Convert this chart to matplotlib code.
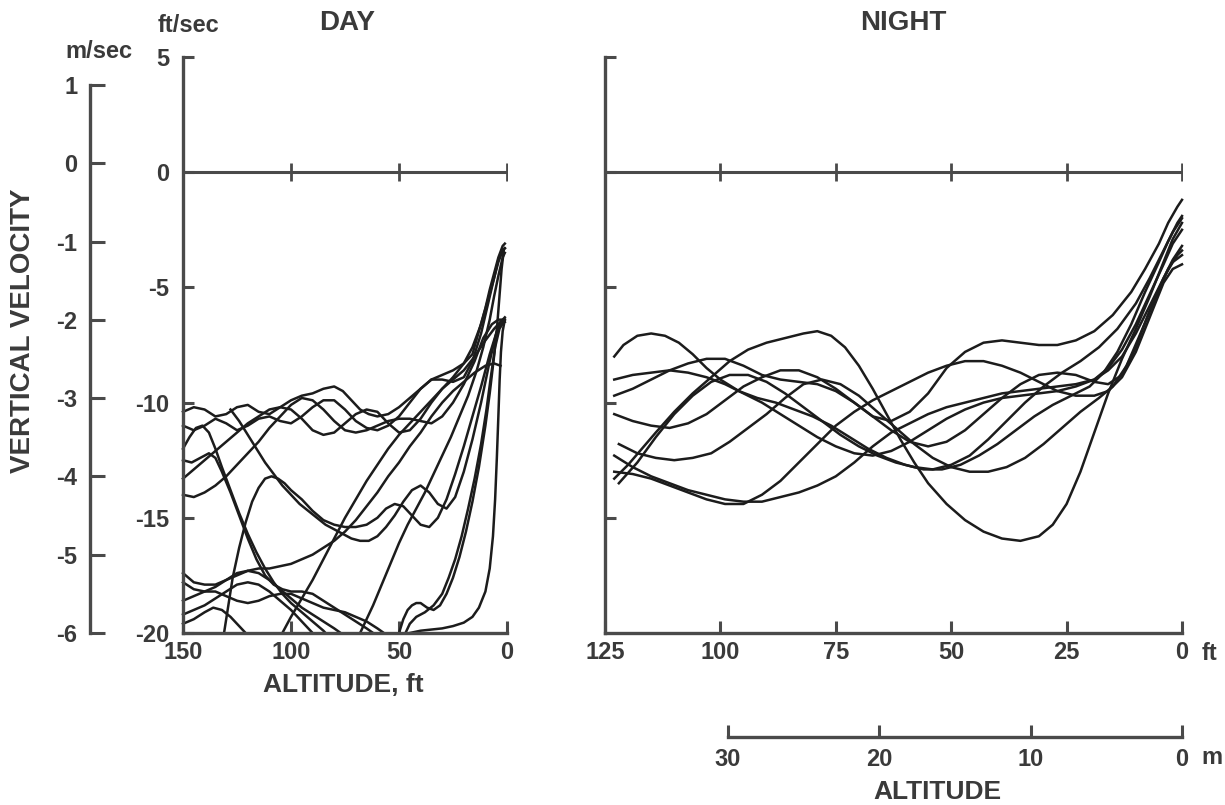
import matplotlib.pyplot as plt

W, H = 1225, 805

# Axis scales
ft_ticks = [5, 0, -5, -10, -15, -20]
ms_ticks = [1, 0, -1, -2, -3, -4, -5, -6]
day_alt_ticks = [150, 100, 50, 0]
night_alt_ticks = [125, 100, 75, 50, 25, 0]
metre_ticks = [30, 20, 10, 0]
FT_PER_M = 3.2808

# DAY traces: (altitude ft, vertical velocity ft/sec)
day_1 = [(150, -10.4), (145, -10.2), (140, -10.3), (135, -10.6), (130, -10.5), (125, -10.2),
         (120, -10.1), (115, -10.4), (110, -10.5), (105, -10.2), (100, -9.9), (95, -9.7),
         (90, -9.6), (85, -9.4), (80, -9.3), (76, -9.5), (72, -9.9), (68, -10.3), (64, -10.5),
         (60, -10.6), (55, -10.5), (50, -10.2), (45, -9.8), (40, -9.4), (35, -9.0), (30, -8.8),
         (25, -8.6), (20, -8.3), (16, -7.9), (13, -6.9), (10, -5.9), (8, -5.1), (6, -4.4),
         (4, -3.7), (2, -3.2), (1, -3.1)]
day_2 = [(150, -11.0), (145, -11.2), (140, -11.0), (135, -10.7), (130, -10.9), (125, -11.2),
         (120, -11.0), (115, -10.7), (110, -10.6), (105, -10.8), (100, -10.9), (95, -10.6),
         (90, -10.2), (85, -9.9), (80, -9.9), (75, -10.3), (70, -10.8), (65, -11.1), (60, -11.2),
         (55, -11.0), (50, -10.6), (45, -10.0), (40, -9.4), (35, -9.0), (30, -9.0), (25, -9.1),
         (20, -8.9), (16, -8.2), (12, -7.0), (9, -5.8), (6, -4.6), (4, -3.8), (2, -3.4), (1, -3.3)]
day_3 = [(150, -13.3), (145, -12.9), (140, -12.5), (135, -12.1), (130, -11.7), (125, -11.3),
         (120, -10.9), (115, -10.6), (110, -10.3), (105, -10.2), (100, -10.3), (95, -10.7),
         (90, -11.2), (85, -11.4), (80, -11.3), (75, -10.9), (70, -10.5), (65, -10.3), (60, -10.4),
         (55, -10.9), (50, -11.3), (45, -11.2), (40, -10.7), (35, -10.0), (30, -9.4), (25, -9.0),
         (20, -8.6), (15, -8.0), (10, -7.3), (6, -6.8), (3, -6.5), (1, -6.4)]
day_4 = [(150, -12.0), (147, -11.5), (144, -11.1), (141, -11.0), (138, -11.3), (135, -12.0),
         (132, -12.8), (128, -13.8), (124, -14.8), (120, -15.7), (116, -16.5), (112, -17.2),
         (108, -17.8), (104, -18.3), (100, -18.7), (95, -19.1), (90, -19.5), (85, -19.9), (84, -20.0)]
day_5 = [(150, -12.5), (146, -12.6), (142, -12.4), (138, -12.2), (135, -12.4), (132, -13.0),
         (128, -13.9), (124, -14.9), (120, -15.9), (116, -16.8), (112, -17.5), (108, -17.9),
         (104, -18.1), (100, -18.2), (95, -18.2), (90, -18.3), (85, -18.6), (80, -18.9),
         (75, -19.2), (70, -19.5), (65, -19.8), (62, -20.0)]
day_6 = [(150, -14.0), (145, -14.1), (140, -13.9), (135, -13.6), (130, -13.2), (125, -12.7),
         (120, -12.2), (115, -11.7), (110, -11.1), (105, -10.6), (100, -10.1), (95, -9.8),
         (90, -9.9), (85, -10.3), (80, -10.8), (75, -11.2), (70, -11.3), (65, -11.2), (60, -11.0),
         (55, -10.8), (50, -10.7), (45, -10.7), (40, -10.8), (35, -10.9), (30, -10.6), (25, -10.0),
         (20, -9.2), (15, -8.2), (11, -7.2), (7, -6.6), (4, -6.4), (2, -6.4)]
day_7 = [(131, -20.0), (129, -18.8), (127, -17.6), (124, -16.3), (121, -15.2), (118, -14.3),
         (115, -13.7), (112, -13.3), (109, -13.2), (106, -13.3), (103, -13.5), (100, -13.8),
         (95, -14.2), (90, -14.7), (85, -15.1), (80, -15.3), (75, -15.4), (70, -15.4), (65, -15.3),
         (60, -15.0), (56, -14.6), (52, -14.4), (48, -14.5), (44, -14.9), (40, -15.3), (36, -15.4),
         (32, -15.0), (28, -14.2), (24, -13.1), (20, -11.9), (16, -10.6), (12, -9.3), (8, -7.9),
         (5, -7.0), (3, -6.6), (1, -6.5)]
day_8 = [(150, -17.4), (145, -17.8), (140, -17.9), (135, -17.9), (130, -17.7), (125, -17.5),
         (120, -17.3), (115, -17.2), (110, -17.2), (105, -17.1), (100, -17.0), (95, -16.8),
         (90, -16.6), (85, -16.3), (80, -16.0), (75, -15.6), (70, -15.1), (65, -14.5), (60, -13.9),
         (55, -13.2), (50, -12.6), (45, -11.9), (40, -11.3), (35, -10.6), (30, -10.0), (25, -9.5),
         (20, -9.1), (15, -8.7), (10, -8.4), (6, -8.3), (3, -8.4)]
day_9 = [(104, -20.0), (100, -19.3), (95, -18.5), (90, -17.7), (85, -16.8), (80, -15.9),
         (75, -15.0), (70, -14.2), (65, -13.4), (60, -12.7), (55, -12.0), (50, -11.4), (45, -10.9),
         (40, -10.4), (35, -9.9), (30, -9.4), (25, -8.9), (20, -8.3), (16, -7.6), (12, -6.6),
         (9, -5.6), (6, -4.6), (4, -3.9), (2, -3.4), (1, -3.3)]
day_10 = [(68, -20.0), (65, -19.4), (62, -18.8), (58, -17.9), (54, -17.0), (50, -16.1),
          (46, -15.3), (42, -14.6), (38, -13.9), (34, -13.1), (30, -12.3), (26, -11.5),
          (22, -10.6), (18, -9.7), (14, -8.6), (11, -7.6), (8, -6.4), (6, -5.4), (4, -4.5),
          (2, -3.7), (1, -3.5)]
day_11 = [(150, -17.8), (145, -18.1), (140, -18.2), (135, -18.0), (130, -17.7), (125, -17.4),
          (120, -17.3), (115, -17.4), (110, -17.7), (105, -18.1), (100, -18.5), (95, -18.9),
          (90, -19.2), (85, -19.5), (80, -19.8), (77, -20.0)]
day_12 = [(150, -18.6), (145, -18.4), (140, -18.2), (135, -18.2), (130, -18.4), (125, -18.6),
          (120, -18.7), (115, -18.6), (110, -18.4), (105, -18.3), (100, -18.3), (95, -18.5),
          (90, -18.7), (85, -18.9), (80, -19.0), (75, -19.1), (70, -19.3), (65, -19.5),
          (60, -19.8), (57, -20.0)]
day_13 = [(150, -19.2), (145, -19.0), (140, -18.8), (135, -18.5), (130, -18.2), (125, -17.9),
          (120, -17.8), (115, -17.9), (110, -18.2), (105, -18.6), (100, -19.0), (96, -19.4),
          (92, -19.8), (90, -20.0)]
day_14 = [(150, -19.6), (145, -19.4), (140, -19.1), (136, -18.9), (132, -19.0), (128, -19.3),
          (124, -19.7), (121, -20.0)]
day_15 = [(45, -20.0), (40, -19.9), (35, -19.85), (30, -19.8), (25, -19.7), (20, -19.55),
          (16, -19.3), (13, -18.9), (10, -18.2), (8, -17.2), (6.5, -15.8), (5.5, -14.2),
          (4.7, -12.4), (4, -10.6), (3.4, -9.0), (2.8, -7.8), (2, -6.9), (1, -6.4)]
day_16 = [(50, -20.0), (48, -19.4), (46, -19.0), (44, -18.8), (42, -18.7), (40, -18.7),
          (37, -18.9), (34, -19.0), (31, -18.8), (28, -18.3), (25, -17.6), (22, -16.7),
          (19, -15.6), (16, -14.3), (13, -12.8), (10, -11.0), (8, -9.6), (6, -8.0), (4.5, -6.6),
          (3.5, -5.4), (2.5, -4.2), (1.5, -3.4)]
day_17 = [(47, -20.0), (45, -19.6), (42, -19.3), (38, -19.1), (34, -18.8), (30, -18.3),
          (27, -17.6), (24, -16.8), (21, -15.8), (18, -14.6), (15, -13.3), (12, -11.8),
          (9.5, -10.3), (7.5, -8.9), (5.5, -7.6), (3.5, -6.8), (1.5, -6.5)]
day_18 = [(128, -10.3), (124, -10.8), (120, -11.4), (116, -12.0), (112, -12.6), (108, -13.1),
          (104, -13.6), (100, -14.0), (96, -14.4), (92, -14.7), (88, -15.0), (84, -15.3),
          (80, -15.5), (76, -15.7), (72, -15.9), (68, -16.0), (64, -16.0), (60, -15.8),
          (56, -15.4), (52, -14.9), (48, -14.3), (44, -13.8), (40, -13.6), (36, -13.9),
          (32, -14.4), (28, -14.6), (24, -14.1), (20, -13.0), (16, -11.6), (12, -10.0),
          (8, -8.2), (5, -7.0), (3, -6.5), (1, -6.3)]

# NIGHT traces: (altitude ft, vertical velocity ft/sec)
night_1 = [(123, -8.0), (121, -7.5), (118, -7.1), (115, -7.0), (112, -7.1), (109, -7.4),
           (106, -7.9), (103, -8.5), (100, -9.0), (96, -9.5), (92, -9.8), (88, -10.0),
           (84, -10.3), (80, -10.6), (76, -11.0), (72, -11.5), (68, -12.0), (64, -12.4),
           (60, -12.7), (56, -12.9), (52, -12.9), (48, -12.7), (44, -12.3), (40, -11.8),
           (36, -11.2), (32, -10.6), (28, -10.1), (24, -9.7), (20, -9.3), (17, -8.7), (14, -7.8),
           (11, -6.6), (8, -5.2), (5, -3.9), (3, -3.0), (1, -2.2), (0, -1.9)]
night_2 = [(123, -9.0), (119, -8.8), (115, -8.7), (111, -8.6), (107, -8.7), (103, -8.9),
           (99, -9.2), (95, -9.6), (91, -10.0), (87, -10.5), (83, -11.0), (79, -11.5),
           (75, -11.9), (71, -12.2), (67, -12.3), (63, -12.1), (59, -11.7), (55, -11.2),
           (51, -10.7), (47, -10.3), (43, -10.0), (39, -9.8), (35, -9.7), (31, -9.6), (27, -9.5),
           (23, -9.3), (19, -9.0), (16, -8.5), (13, -7.7), (10, -6.6), (7, -5.3), (4, -4.0),
           (2, -3.1), (0, -2.5)]
night_3 = [(123, -9.7), (119, -9.4), (115, -9.0), (111, -8.6), (107, -8.3), (103, -8.1),
           (99, -8.1), (95, -8.4), (91, -8.8), (87, -9.0), (83, -9.1), (79, -9.2), (75, -9.5),
           (71, -10.0), (67, -10.6), (63, -11.2), (59, -11.7), (55, -11.9), (51, -11.7),
           (47, -11.2), (43, -10.5), (39, -9.8), (35, -9.2), (31, -8.8), (27, -8.7), (23, -8.8),
           (19, -9.1), (16, -9.2), (13, -8.8), (10, -7.6), (7, -6.0), (4, -4.6), (2, -3.8),
           (0, -3.2)]
night_4 = [(123, -10.5), (119, -10.8), (115, -11.0), (111, -11.1), (107, -10.9), (103, -10.5),
           (99, -9.9), (95, -9.3), (91, -8.9), (87, -8.6), (83, -8.6), (79, -8.9), (75, -9.4),
           (71, -10.0), (67, -10.6), (63, -10.8), (59, -10.4), (55, -9.6), (51, -8.5),
           (47, -7.8), (43, -7.4), (39, -7.3), (35, -7.4), (31, -7.5), (27, -7.5), (23, -7.3),
           (19, -6.9), (15, -6.2), (11, -5.2), (8, -4.2), (5, -3.1), (3, -2.2), (1, -1.5),
           (0, -1.2)]
night_5 = [(123, -13.3), (120, -12.7), (117, -12.0), (114, -11.3), (110, -10.4), (106, -9.6),
           (102, -8.9), (98, -8.2), (94, -7.7), (90, -7.4), (86, -7.2), (82, -7.0), (79, -6.9),
           (76, -7.1), (73, -7.6), (70, -8.4), (67, -9.4), (64, -10.5), (61, -11.6), (58, -12.6),
           (55, -13.5), (51, -14.4), (47, -15.1), (43, -15.6), (39, -15.9), (35, -16.0),
           (31, -15.8), (28, -15.3), (25, -14.4), (22, -13.0), (19, -11.3), (16, -9.6),
           (13, -8.1), (10, -6.8), (7, -5.4), (4, -3.9), (2, -2.9), (0, -2.2)]
night_6 = [(122, -11.8), (118, -12.2), (114, -12.4), (110, -12.5), (106, -12.4), (102, -12.2),
           (98, -11.7), (94, -11.1), (90, -10.5), (86, -9.8), (82, -9.2), (78, -9.0), (74, -9.2),
           (70, -9.7), (66, -10.4), (62, -11.1), (58, -11.8), (54, -12.4), (50, -12.8),
           (46, -13.0), (42, -13.0), (38, -12.8), (34, -12.4), (30, -11.8), (26, -11.1),
           (22, -10.4), (18, -9.8), (15, -9.3), (12, -8.4), (9, -7.0), (6, -5.6), (3, -4.2),
           (1, -3.6), (0, -3.4)]
night_7 = [(123, -12.3), (119, -12.8), (115, -13.2), (111, -13.5), (107, -13.8), (103, -14.0),
           (99, -14.2), (95, -14.3), (91, -14.3), (87, -14.1), (83, -13.9), (79, -13.6),
           (75, -13.2), (71, -12.6), (67, -11.9), (63, -11.3), (59, -10.9), (55, -10.5),
           (51, -10.2), (47, -10.0), (43, -9.8), (39, -9.6), (35, -9.5), (31, -9.4), (27, -9.3),
           (23, -9.2), (19, -9.0), (16, -8.6), (13, -8.0), (10, -7.0), (7, -5.8), (4, -4.6),
           (2, -3.9), (0, -3.6)]
night_8 = [(123, -13.0), (119, -13.1), (115, -13.3), (111, -13.6), (107, -13.9), (103, -14.2),
           (99, -14.4), (95, -14.4), (91, -14.0), (87, -13.4), (83, -12.6), (79, -11.8),
           (75, -11.0), (71, -10.4), (67, -9.9), (63, -9.5), (59, -9.1), (55, -8.7), (51, -8.4),
           (47, -8.2), (43, -8.2), (39, -8.4), (35, -8.7), (31, -9.1), (27, -9.5), (23, -9.7),
           (19, -9.7), (16, -9.5), (13, -8.9), (10, -7.8), (7, -6.3), (4, -4.8), (2, -4.2),
           (0, -4.0)]
night_9 = [(122, -13.5), (118, -12.6), (114, -11.5), (110, -10.5), (106, -9.7), (102, -9.1),
           (98, -8.8), (94, -8.8), (90, -9.1), (86, -9.6), (82, -10.2), (78, -10.8), (74, -11.4),
           (70, -11.9), (66, -12.3), (62, -12.6), (58, -12.8), (54, -12.9), (50, -12.7),
           (46, -12.3), (42, -11.6), (38, -10.8), (34, -10.0), (30, -9.3), (26, -8.7), (22, -8.2),
           (18, -7.6), (14, -6.8), (10, -5.7), (7, -4.6), (4, -3.4), (2, -2.6), (0, -2.0)]

day_traces = [day_1, day_2, day_3, day_4, day_5, day_6, day_7, day_8, day_9,
              day_10, day_11, day_12, day_13, day_14, day_15, day_16, day_17, day_18]
night_traces = [night_1, night_2, night_3, night_4, night_5, night_6, night_7, night_8, night_9]

plt.rcParams['font.family'] = ['Liberation Sans', 'DejaVu Sans']
plt.rcParams['font.weight'] = 'bold'

ink = '#1c1c1c'
axis_ink = '#4a4a4a'
text_ink = '#3a3a3a'

fig = plt.figure(figsize=(W / 100, H / 100), dpi=100)


def px_axes(x0, y0, x1, y1):
    # axes placed by pixel box (top-left origin)
    ax = fig.add_axes([x0 / W, 1 - y1 / H, (x1 - x0) / W, (y1 - y0) / H])
    ax.patch.set_alpha(0)
    for side in ('top', 'right'):
        ax.spines[side].set_visible(False)
    for side in ('left', 'bottom'):
        ax.spines[side].set_linewidth(2.4)
        ax.spines[side].set_color(axis_ink)
    return ax


def style_ticks(ax, axis, length, pad):
    ax.tick_params(axis=axis, direction='in', length=length, width=2.2, color=axis_ink,
                   labelsize=17, labelcolor=text_ink, pad=pad)


day = px_axes(183, 57, 507, 633)
night = px_axes(605, 57, 1182, 633)

for ax, traces, xmax, xt in ((day, day_traces, 150, day_alt_ticks),
                             (night, night_traces, 125, night_alt_ticks)):
    ax.set_xlim(xmax, 0)
    ax.set_ylim(-20, 5)
    ax.set_xticks(xt)
    ax.set_xticklabels([str(t) for t in xt])
    ax.set_yticks(ft_ticks[:-1] if ax is night else ft_ticks)
    style_ticks(ax, 'x', 9, 6)
    style_ticks(ax, 'y', 8, 10)
    # zero-velocity reference line with crossing ticks
    ax.plot([xmax, 0], [0, 0], color=axis_ink, lw=2.2, solid_capstyle='butt')
    ax.plot(xt[1:], [0] * (len(xt) - 1), ls='none', marker='|', ms=13, mew=2.0, color=axis_ink)
    for tr in traces:
        alt = [p[0] for p in tr]
        vel = [p[1] for p in tr]
        ax.plot(alt, vel, color=ink, lw=1.8, solid_joinstyle='round', clip_on=False)

day.set_yticklabels([str(t) for t in ft_ticks])
night.set_yticklabels([])

# metres per second scale
ms_ax = px_axes(90, 85, 100, 633)
ms_ax.spines['bottom'].set_visible(False)
ms_ax.set_ylim(-6, 1)
ms_ax.set_yticks(ms_ticks)
ms_ax.set_yticklabels([str(t) for t in ms_ticks])
ms_ax.set_xticks([])
style_ticks(ms_ax, 'y', 11, 9)

# metre altitude scale under the night panel
m_ax = px_axes(605, 700, 1182, 737)
m_ax.spines['left'].set_visible(False)
m_ax.set_xlim(125 / FT_PER_M, 0)
m_ax.spines['bottom'].set_bounds(metre_ticks[0], metre_ticks[-1])
m_ax.set_xticks(metre_ticks)
m_ax.set_xticklabels([str(t) for t in metre_ticks])
m_ax.set_yticks([])
style_ticks(m_ax, 'x', 9, 8)


def label(x, y, s, size=17, **kw):
    fig.text(x / W, 1 - y / H, s, ha='center', va='center', fontsize=size,
             color=text_ink, fontweight='bold', **kw)


label(188, 25, 'ft/sec')
label(99, 52, 'm/sec')
label(347, 23, 'DAY', size=20)
label(903, 23, 'NIGHT', size=20)
label(23, 331, 'VERTICAL VELOCITY', size=20, rotation=90)
label(343, 685, 'ALTITUDE, ft', size=19)
label(1210, 653, 'ft')
label(1212, 757, 'm')
label(937, 792, 'ALTITUDE', size=19)

fig.savefig('out.png', dpi=100, facecolor='white')
